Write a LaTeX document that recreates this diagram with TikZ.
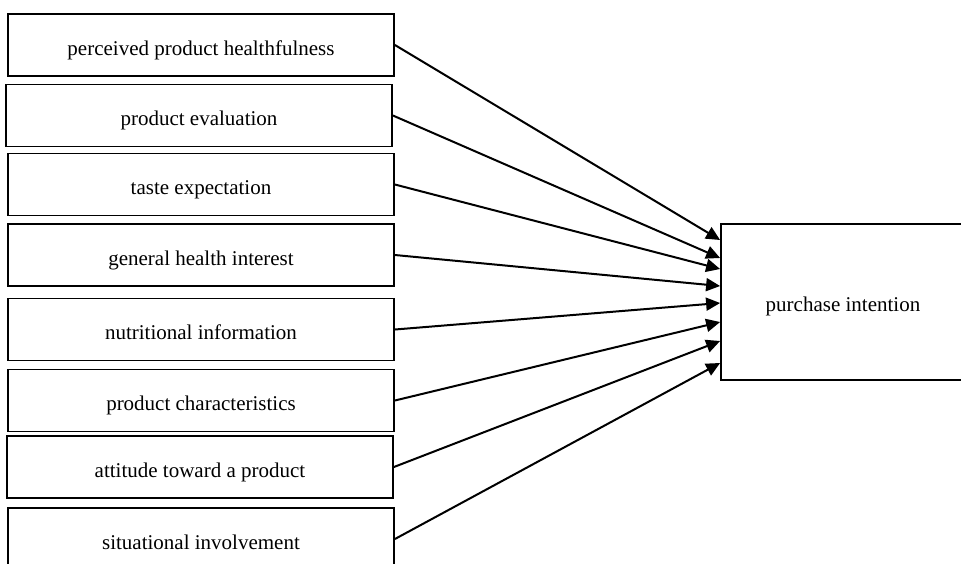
\documentclass[tikz,border=0pt]{standalone}
\usepackage{fontspec}
\setmainfont{Liberation Serif}
\usepackage{tikz}
\usetikzlibrary{arrows.meta, positioning}

\begin{document}
\begin{tikzpicture}[x=0.5pt, y=-0.5pt,
    factor/.style={draw, line width=0.9pt, minimum width=193pt, minimum height=31pt, inner sep=0pt, text height=10pt, text depth=0pt, font=\fontsize{10.5}{12.6}\selectfont},
    outcome/.style={draw, line width=0.9pt, minimum width=122pt, minimum height=78pt, inner sep=0pt, text height=9pt, text depth=0pt, font=\fontsize{10.5}{12.6}\selectfont},
    effect/.style={line width=1pt, -{Triangle[length=7pt, width=6.5pt]}}]
    \useasboundingbox (0,0) rectangle (961,563);
    \clip (0,0) rectangle (961,563);

    % Factors
    \node[factor] (f1) at (201,45) {perceived product healthfulness};
    \node[factor] (f2) at (199,115.5) {product evaluation};
    \node[factor] (f3) at (201,184.5) {taste expectation};
    \node[factor] (f4) at (201,255) {general health interest};
    \node[factor] (f5) at (201,329.5) {nutritional information};
    \node[factor] (f6) at (201,400.5) {product characteristics};
    \node[factor] (f7) at (200,467) {attitude toward a product};
    \node[factor] (f8) at (201,539) {situational involvement};

    % Outcome
    \node[outcome] (intent) at (843,302) {purchase intention};

    % Arrows
    \foreach \i/\s in {1/31, 2/22, 3/16.5, 4/8, 5/-0.5, 6/-10, 7/-19.5, 8/-30.5}
        \draw[effect] (f\i.east) -- ([yshift=\s pt]intent.west);
\end{tikzpicture}
\end{document}
